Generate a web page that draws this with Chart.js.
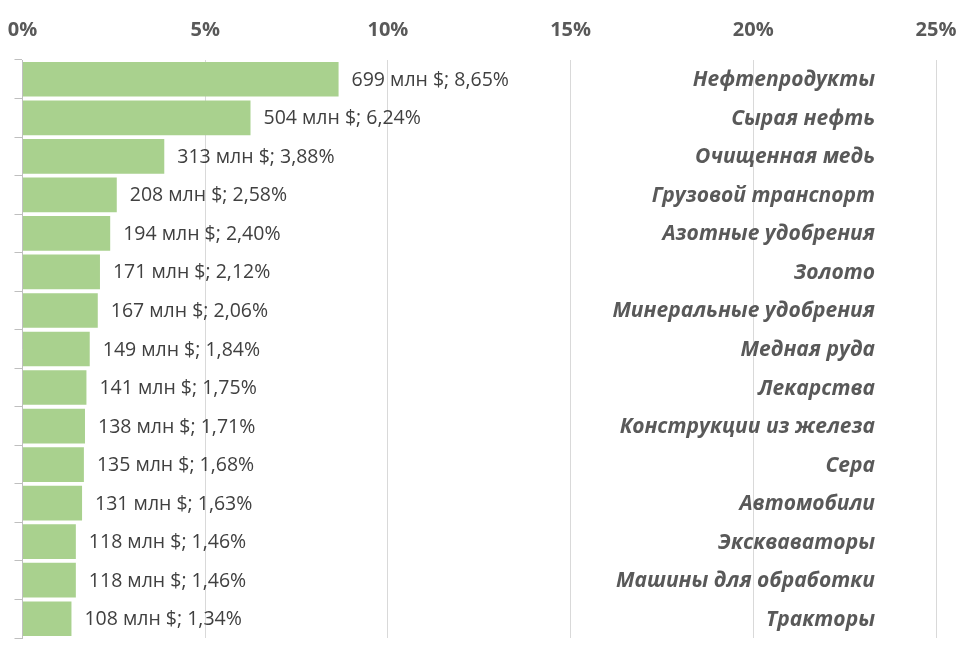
<!DOCTYPE html>
<html>
<head>
<meta charset="utf-8">
<script src="https://cdn.jsdelivr.net/npm/chart.js@4/dist/chart.umd.min.js"></script>
<style>
  html, body { margin: 0; padding: 0; background: #ffffff; }
  #wrap { width: 980px; height: 662px; }
</style>
</head>
<body>
<div id="wrap"><canvas id="c" width="980" height="662"></canvas></div>
<script>
const categories = [
  "Нефтепродукты", "Сырая нефть", "Очищенная медь", "Грузовой транспорт",
  "Азотные удобрения", "Золото", "Минеральные удобрения", "Медная руда",
  "Лекарства", "Конструкции из железа", "Сера", "Автомобили",
  "Экскваваторы", "Машины для обработки", "Тракторы"
];
const valuesMln = [699, 504, 313, 208, 194, 171, 167, 149, 141, 138, 135, 131, 118, 118, 108];
const sharePct = [8.65, 6.24, 3.88, 2.58, 2.40, 2.12, 2.06, 1.84, 1.75, 1.71, 1.68, 1.63, 1.46, 1.46, 1.34];
const xTicks = [0, 5, 10, 15, 20, 25];

const FONT = "'Open Sans', 'DejaVu Sans', sans-serif";
const fmt = v => v.toFixed(2).replace('.', ',');

const labelPlugin = {
  id: 'labels',
  afterDatasetsDraw(chart) {
    const ctx = chart.ctx;
    const meta = chart.getDatasetMeta(0);
    const area = chart.chartArea;
    ctx.save();
    ctx.textBaseline = 'middle';
    meta.data.forEach((bar, i) => {
      ctx.font = "19.5px " + FONT;
      ctx.fillStyle = '#404040';
      ctx.textAlign = 'left';
      ctx.fillText(valuesMln[i] + ' млн $; ' + fmt(sharePct[i]) + '%', bar.x + 13, bar.y + 1);
      ctx.font = "italic bold 21px " + FONT;
      ctx.fillStyle = '#595959';
      ctx.textAlign = 'right';
      ctx.fillText(categories[i], area.right - 61, bar.y + 1);
    });
    ctx.restore();
  }
};

new Chart(document.getElementById('c'), {
  type: 'bar',
  data: {
    labels: categories,
    datasets: [{
      data: sharePct,
      backgroundColor: '#a9d18e',
      borderWidth: 0,
      barPercentage: 0.9,
      categoryPercentage: 1.0
    }]
  },
  options: {
    indexAxis: 'y',
    responsive: false,
    animation: false,
    devicePixelRatio: 1,
    layout: { padding: { left: 14.5, right: 44, top: 0, bottom: 24 } },
    plugins: { legend: { display: false }, tooltip: { enabled: false } },
    scales: {
      x: {
        position: 'top',
        min: 0, max: 25,
        afterBuildTicks: s => { s.ticks = xTicks.map(v => ({ value: v })); },
        afterFit: s => { s.paddingLeft = 0; s.paddingRight = 0; },
        ticks: {
          padding: 18,
          color: '#595959',
          font: { family: FONT, size: 20, weight: 'bold' },
          callback: v => v + '%'
        },
        grid: { color: '#d9d9d9', lineWidth: 1, drawTicks: false },
        border: { display: false }
      },
      y: {
        position: 'left',
        afterFit: s => { s.width = 8; },
        ticks: { display: false },
        grid: { display: true, drawOnChartArea: false, offset: true, tickLength: 8, color: '#bfbfbf' },
        border: { display: true, color: '#bfbfbf' }
      }
    }
  },
  plugins: [labelPlugin]
});
</script>
</body>
</html>
